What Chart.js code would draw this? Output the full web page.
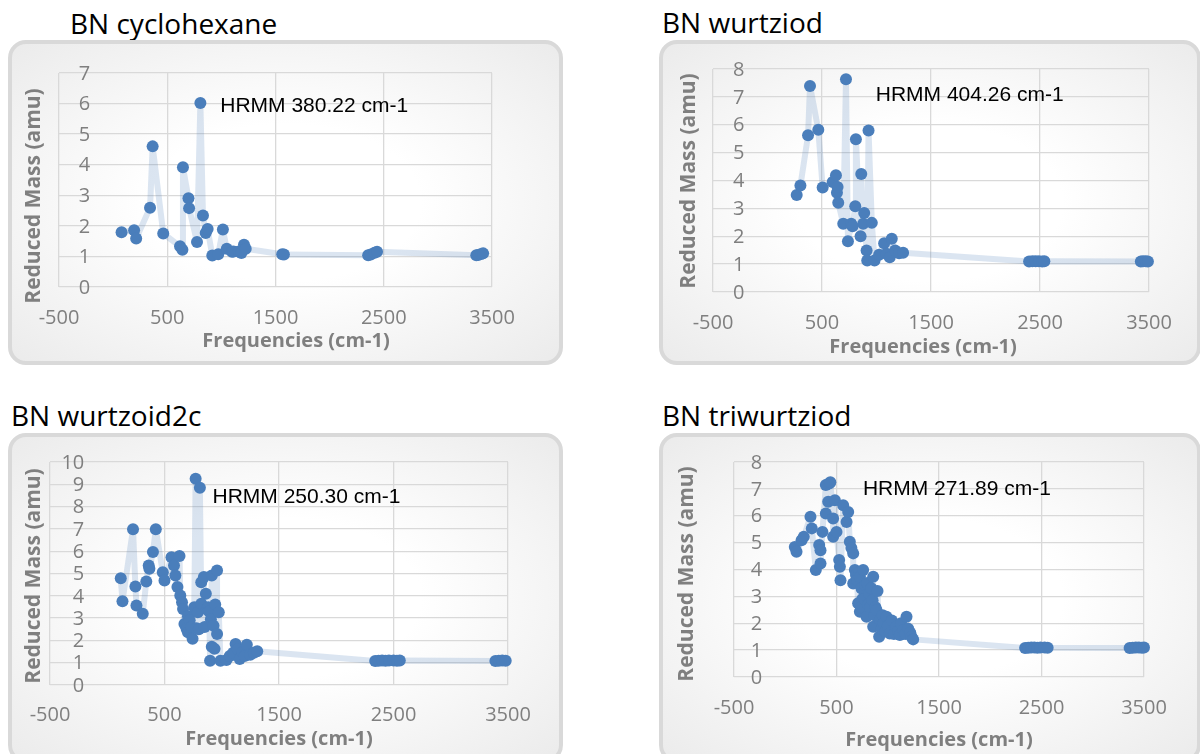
<!DOCTYPE html>
<html>
<head>
<meta charset="utf-8">
<script src="https://cdn.jsdelivr.net/npm/chart.js@4.4.1/dist/chart.umd.min.js"></script>
<style>
  body { margin: 0; width: 1200px; height: 754px; overflow: hidden; background: #fff; position: relative; font-family: "Open Sans", sans-serif; }
  .ttl { position: absolute; font-size: 28px; line-height: 28px; color: #000; white-space: nowrap; }
  .box { position: absolute; box-sizing: border-box; border: 4px solid #d9d9d9; border-radius: 18px;
         background: radial-gradient(ellipse at center, #ffffff 35%, #ebebeb 100%); }
  canvas { position: absolute; }
</style>
</head>
<body>
<script>
// BN cyclohexane
const freqCyclo = [78, 194, 213, 341, 365, 463, 618, 640, 645, 696, 702, 775, 806, 830, 855, 873, 916, 971, 1014, 1050,
  1098, 1112, 1161, 1185, 1209, 1225, 1562, 1578, 2356, 2380, 2415, 2438, 3355, 3372, 3400, 3418];
const massCyclo = [1.79, 1.86, 1.59, 2.59, 4.60, 1.75, 1.33, 1.22, 3.92, 2.90, 2.58, 1.47, 6.02, 2.34, 1.77, 1.90, 1.03, 1.07, 1.88, 1.25,
  1.15, 1.16, 1.16, 1.11, 1.38, 1.25, 1.07, 1.06, 1.04, 1.06, 1.12, 1.15, 1.04, 1.05, 1.08, 1.10];

// BN wurtziod
const freqWurtz = [268, 302, 372, 390, 466, 506, 598, 628, 637, 643, 649, 695, 720, 738, 768, 780, 805, 811, 854, 860,
  878, 887, 909, 915, 927, 957, 982, 1024, 1070, 1091, 1122, 1140, 1171, 1207, 1244, 2400, 2430, 2460, 2490, 2520,
  2540, 3425, 3445, 3470, 3490];
const massWurtz = [3.48, 3.82, 5.62, 7.39, 5.82, 3.75, 3.95, 4.19, 3.56, 3.77, 3.20, 2.45, 7.63, 1.82, 2.45, 2.36, 3.08, 5.48, 2.00, 4.23,
  2.45, 2.83, 1.49, 1.13, 5.79, 2.48, 1.13, 1.34, 1.75, 1.37, 1.25, 1.91, 1.49, 1.39, 1.41, 1.09, 1.10, 1.10, 1.10, 1.09,
  1.10, 1.09, 1.10, 1.10, 1.09];

// BN wurtzoid2c
const freqWurtz2c = [118, 133, 225, 246, 255, 310, 341, 362, 368, 399, 424, 485, 500, 561, 583, 595, 613, 631, 638, 653,
  662, 674, 693, 705, 705, 720, 735, 745, 760, 772, 780, 791, 800, 809, 821, 821, 844, 850, 861, 870,
  882, 890, 898, 905, 913, 913, 928, 937, 943, 959, 959, 974, 989, 1041, 1070, 1100, 1121, 1140, 1157, 1182,
  1200, 1219, 1249, 1280, 1310, 2340, 2370, 2400, 2430, 2460, 2500, 2530, 2555, 3390, 3420, 3450, 3480];
const massWurtz2c = [4.79, 3.76, 6.98, 4.42, 3.56, 3.19, 4.64, 5.36, 5.21, 5.96, 6.98, 5.06, 4.69, 5.73, 5.36, 4.91, 4.39, 5.79, 4.01, 3.71,
  3.41, 2.74, 2.51, 3.08, 2.36, 2.90, 2.60, 2.07, 3.49, 9.25, 2.55, 3.26, 2.50, 8.85, 3.64, 4.61, 4.84, 2.60, 4.09, 3.40,
  3.49, 3.30, 1.09, 2.95, 4.91, 1.72, 2.66, 1.62, 3.61, 5.13, 2.29, 3.26, 1.09, 1.12, 1.30, 1.45, 1.84, 1.60, 1.17, 1.47,
  1.30, 1.80, 1.36, 1.45, 1.51, 1.08, 1.09, 1.10, 1.09, 1.10, 1.10, 1.09, 1.10, 1.08, 1.09, 1.10, 1.09];

// BN triwurtziod
const freqTri = [93, 110, 159, 181, 246, 259, 298, 331, 344, 344, 363, 396, 396, 419, 428, 440, 467, 467, 484, 500,
  526, 533, 539, 565, 598, 614, 630, 645, 663, 663, 679, 690, 700, 711, 720, 728, 728, 740, 744, 752,
  760, 770, 780, 793, 800, 810, 819, 830, 840, 852, 858, 858, 870, 880, 890, 900, 916, 923, 940, 950,
  960, 975, 988, 1000, 1020, 1040, 1060, 1085, 1100, 1118, 1130, 1150, 1170, 1183, 1200, 1220, 1232, 1248,
  2340, 2370, 2400, 2430, 2460, 2490, 2530, 2560, 3360, 3390, 3420, 3450, 3480, 3500];
const massTri = [4.84, 4.66, 5.09, 5.22, 5.96, 5.53, 3.98, 4.91, 4.72, 4.22, 5.40, 7.14, 6.08, 6.52, 7.20, 7.25, 5.90, 5.22, 6.58, 5.40,
  4.35, 4.10, 3.60, 6.39, 5.77, 6.14, 5.03, 4.80, 4.60, 3.48, 3.98, 3.80, 3.60, 2.74, 3.90, 3.73, 2.43, 2.60, 3.29, 2.90,
  3.98, 2.90, 3.40, 2.24, 3.50, 2.70, 3.11, 2.60, 3.30, 2.86, 3.73, 1.87, 2.30, 2.60, 2.49, 3.20, 1.50, 2.12, 1.80, 2.30,
  2.00, 1.70, 2.24, 1.90, 1.62, 2.10, 1.60, 1.87, 1.70, 1.56, 2.00, 1.75, 1.60, 2.24, 1.80, 1.65, 1.50, 1.40,
  1.08, 1.09, 1.10, 1.10, 1.09, 1.10, 1.10, 1.09, 1.08, 1.09, 1.10, 1.10, 1.09, 1.10];

const panelTitles = ['BN cyclohexane', 'BN wurtziod', 'BN wurtzoid2c', 'BN triwurtziod'];
const hrmmTexts = ['HRMM 380.22 cm-1', 'HRMM 404.26 cm-1', 'HRMM 250.30 cm-1', 'HRMM 271.89 cm-1'];
const massMax = [7, 8, 10, 8];
const freqMin = -500;
const freqMax = 3500;
const freqStep = 1000;
const xTitle = 'Frequencies (cm-1)';
const yTitle = 'Reduced Mass (amu)';

const seriesFreq = [freqCyclo, freqWurtz, freqWurtz2c, freqTri];
const seriesMass = [massCyclo, massWurtz, massWurtz2c, massTri];

// page geometry of each panel: box, plot area [l, r, t, b], title spot, text centres
const geo = [
  { box: [8, 40, 555, 325], area: [59, 492, 73, 287], title: [70, 9], hrmm: [990, 5.9], yTitle: [34, 196], xTitle: [296, 341], xTickY: 318 },
  { box: [659, 40, 542, 325], area: [713, 1149, 69, 292], title: [662, 8], hrmm: [993, 7.07], yTitle: [689, 181], xTitle: [923, 347], xTickY: 323 },
  { box: [8, 433, 555, 330], area: [50, 508, 462, 685], title: [11, 401], hrmm: [919, 8.42], yTitle: [34, 576], xTitle: [279, 739], xTickY: 715 },
  { box: [659, 433, 542, 330], area: [734, 1144, 462, 677], title: [662, 401], hrmm: [758, 6.99], yTitle: [687, 574], xTitle: [939, 740], xTickY: 708 },
];

const tickFont = { family: '"Open Sans", sans-serif', size: 20 };
const tickColor = '#7f7f7f';
const gridColor = '#d9d9d9';

// axis titles, y tick labels next to x = 0, and the HRMM note
const panelTextPlugin = {
  id: 'panelText',
  afterDatasetsDraw(chart, args, opts) {
    const { ctx } = chart;
    const xs = chart.scales.x;
    const ys = chart.scales.y;
    ctx.save();

    ctx.font = '20px "Open Sans", sans-serif';
    ctx.fillStyle = tickColor;
    ctx.textAlign = 'right';
    ctx.textBaseline = 'middle';
    const lx = xs.getPixelForValue(0) - 23;
    ys.ticks.forEach(t => {
      ctx.fillText(String(t.value), lx, ys.getPixelForValue(t.value) + 1);
    });

    ctx.font = 'bold 20px "Open Sans", sans-serif';
    ctx.textAlign = 'center';
    ctx.fillText(xTitle, opts.xTitle[0], opts.xTitle[1]);

    ctx.save();
    ctx.font = 'bold 21px "Open Sans", sans-serif';
    ctx.translate(opts.yTitle[0], opts.yTitle[1]);
    ctx.rotate(-Math.PI / 2);
    ctx.fillText(yTitle, 0, 0);
    ctx.restore();

    ctx.font = '21px "Liberation Sans", Arial, sans-serif';
    ctx.fillStyle = '#000';
    ctx.textAlign = 'left';
    ctx.fillText(opts.text, xs.getPixelForValue(opts.x), ys.getPixelForValue(opts.y));
    ctx.restore();
  },
};

function makePanel(i) {
  const g = geo[i];
  const [bx, by, bw, bh] = g.box;

  const ttl = document.createElement('div');
  ttl.className = 'ttl';
  ttl.style.left = g.title[0] + 'px';
  ttl.style.top = g.title[1] + 'px';
  ttl.textContent = panelTitles[i];
  document.body.appendChild(ttl);

  const box = document.createElement('div');
  box.className = 'box';
  box.style.left = bx + 'px';
  box.style.top = by + 'px';
  box.style.width = bw + 'px';
  box.style.height = bh + 'px';
  document.body.appendChild(box);

  const cv = document.createElement('canvas');
  cv.width = bw;
  cv.height = Math.min(bh, 754 - by);
  cv.style.left = bx + 'px';
  cv.style.top = by + 'px';
  document.body.appendChild(cv);

  const aL = g.area[0] - bx;
  const aR = g.area[1] - bx;
  const aT = g.area[2] - by;
  const aB = g.area[3] - by;
  const xH = cv.height - aB;
  const tickLh = tickFont.size * 1.2;

  const points = seriesFreq[i].map((f, k) => ({ x: f, y: seriesMass[i][k] }));

  new Chart(cv, {
    type: 'scatter',
    data: {
      datasets: [{
        data: points,
        showLine: true,
        borderColor: 'rgba(74, 126, 187, 0.2)',
        borderWidth: 6,
        borderJoinStyle: 'round',
        pointRadius: 6,
        pointHoverRadius: 6,
        pointBackgroundColor: '#4a7ebb',
        pointBorderWidth: 0,
        clip: false,
      }],
    },
    options: {
      responsive: false,
      animation: false,
      devicePixelRatio: 1,
      layout: { padding: { left: 0, top: aT, right: cv.width - aR, bottom: 0 } },
      plugins: {
        legend: { display: false },
        tooltip: { enabled: false },
        panelText: {
          text: hrmmTexts[i], x: g.hrmm[0], y: g.hrmm[1],
          xTitle: [g.xTitle[0] - bx, g.xTitle[1] - by],
          yTitle: [g.yTitle[0] - bx, g.yTitle[1] - by],
        },
      },
      scales: {
        x: {
          type: 'linear',
          min: freqMin,
          max: freqMax,
          ticks: { stepSize: freqStep, padding: (g.xTickY - g.area[3]) - tickLh / 2, font: tickFont, color: tickColor,
                   maxRotation: 0, autoSkip: false, callback: v => String(v) },
          grid: { color: gridColor, lineWidth: 1.3, drawTicks: false },
          border: { display: false },
          afterFit(s) { s.height = xH; },
        },
        y: {
          min: 0,
          max: massMax[i],
          ticks: { stepSize: 1, display: false, autoSkip: false },
          grid: { color: gridColor, lineWidth: 1.3, drawTicks: false },
          border: { display: false },
          afterFit(s) { s.width = aL; },
        },
      },
    },
    plugins: [panelTextPlugin],
  });
}

for (let i = 0; i < 4; i++) makePanel(i);
</script>
</body>
</html>
